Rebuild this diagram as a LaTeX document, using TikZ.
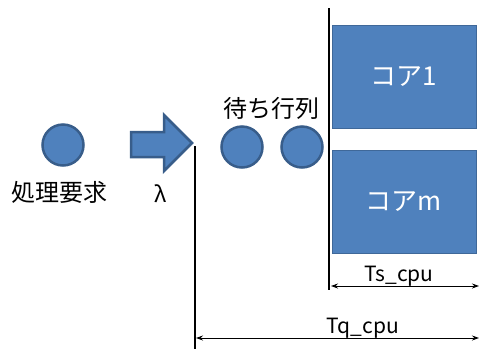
\documentclass[tikz,border=0pt]{standalone}
\usepackage{fontspec}
\setmainfont{Noto Sans CJK JP}
\usetikzlibrary{arrows.meta}
\definecolor{fillblue}{HTML}{4F81BD}
\definecolor{edgeblue}{HTML}{385D8A}
\begin{document}
\begin{tikzpicture}[x=1pt,y=-1pt,
  ball/.style={circle,fill=fillblue,draw=edgeblue,line width=2.5pt,minimum size=41pt,inner sep=0pt},
  core/.style={rectangle,fill=fillblue,draw=edgeblue!70!fillblue,line width=1pt,minimum width=144pt,minimum height=103pt,text=white,font=\fontsize{26}{29}\selectfont},
  lbl/.style={font=\fontsize{24}{27}\selectfont,inner sep=0pt},
  dimlbl/.style={font=\fontsize{21}{24}\selectfont,inner sep=0pt},
  dim/.style={{Stealth[length=7pt,width=5pt]}-{Stealth[length=7pt,width=5pt]},line width=0.9pt},
  vline/.style={line width=1.5pt}]
\useasboundingbox (0,0) rectangle (479,349);
\node[ball] (req) at (63,145) {};
\node[lbl,anchor=base] (reqlbl) at (59,201) {処理要求};
\draw[fill=fillblue,draw=edgeblue,line width=2.5pt,line join=miter]
  (131,132) -- (164,132) -- (164,115) -- (192,143) -- (164,171) -- (164,157) -- (131,157) -- cycle;
\node[lbl,anchor=base,font=\fontsize{22}{25}\selectfont] (lam) at (161,202) {λ};
\node[ball] (q1) at (242,147) {};
\node[ball] (q2) at (302,147) {};
\node[lbl,anchor=base] (qlbl) at (271,117) {待ち行列};
\node[core] (c1) at (404,76.5) {コア1};
\node[core] (cm) at (404,202) {コアm};
\coordinate (vqtop) at (195,146);
\coordinate (vqbot) at (195,349);
\coordinate (vstop) at (329,8);
\coordinate (vsbot) at (329,290);
\draw[vline] (vqtop) -- (vqbot);
\draw[vline] (vstop) -- (vsbot);
\coordinate (tsl) at (331,286);
\coordinate (tsr) at (479,286);
\coordinate (tql) at (196,338);
\coordinate (tqr) at (479,338);
\draw[dim] (tsl) -- (tsr);
\draw[dim] (tql) -- (tqr);
\node[dimlbl,anchor=base] (ts) at (399,281) {Ts\_cpu};
\node[dimlbl,anchor=base] (tq) at (363,333) {Tq\_cpu};
\end{tikzpicture}
\end{document}
